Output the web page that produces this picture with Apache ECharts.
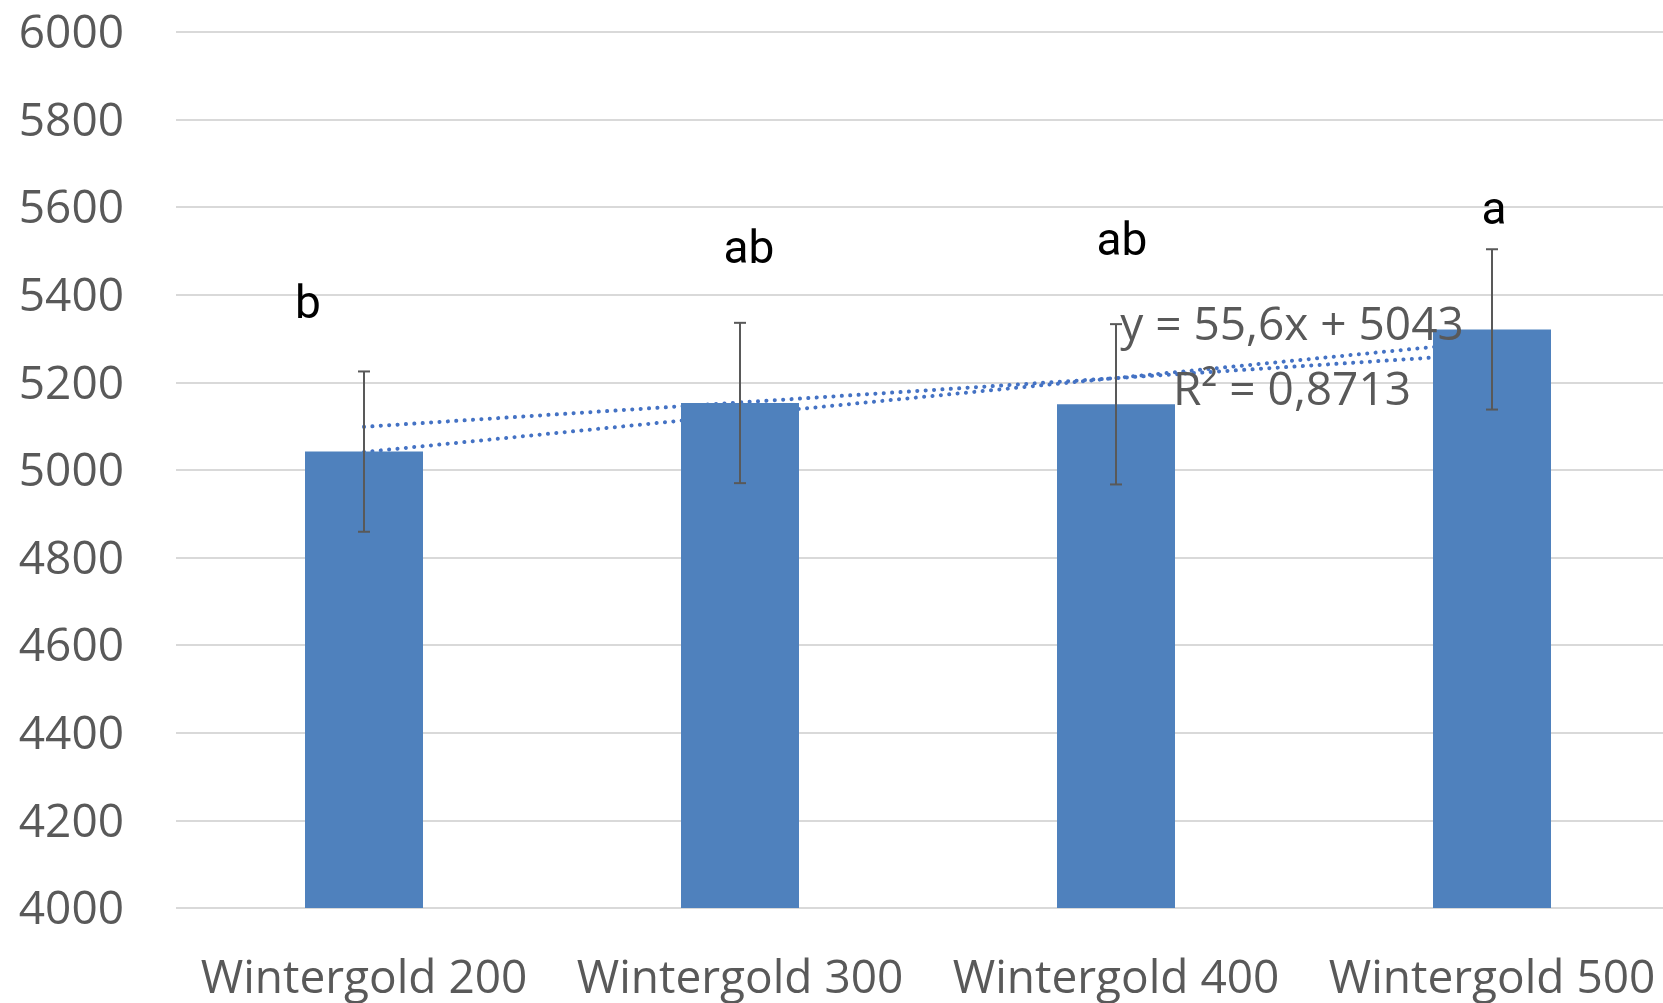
<!DOCTYPE html>
<html>
<head>
<meta charset="utf-8">
<script src="https://cdn.jsdelivr.net/npm/echarts@6/dist/echarts.min.js"></script>
<style>
html,body{margin:0;padding:0;background:#fff;}
#chart{width:1663px;height:1003px;}
</style>
</head>
<body>
<div id="chart"></div>
<script>
// ---- data ----
const categories = ['Wintergold 200', 'Wintergold 300', 'Wintergold 400', 'Wintergold 500'];
const yieldValues = [5042, 5153, 5150, 5321];
const errorValues = [183, 183, 183, 183];
const letters = ['b', 'ab', 'ab', 'a'];
const letterValues = [5374, 5500, 5518, 5587];
const trendLabeled = [5098.6, 5154.2, 5209.8, 5265.4];   // y = 55,6x + 5043
const trendSecond = [5041, 5126, 5210, 5294];
const equationText = 'y = 55,6x + 5043';
const r2Text = 'R\u00B2 = 0,8713';
const yTicks = { min: 4000, max: 6000, interval: 200 };

// ---- styling ----
const letterDx = [-56, 9, 6, 2];
const axisFont = 'Open Sans';
const grey = '#595959';

const chart = echarts.init(document.getElementById('chart'));

const errData = categories.map((c, i) => [i, yieldValues[i] - errorValues[i], yieldValues[i] + errorValues[i]]);
const letterData = categories.map((c, i) => [i, letterValues[i]]);

const dotted = { color: '#4472C4', width: 4, type: [0.1, 8.3], cap: 'round' };

chart.setOption({
  animation: false,
  backgroundColor: '#fff',
  grid: { left: 176, right: -17, top: 32, bottom: 95, outerBoundsMode: 'none', containLabel: false },
  xAxis: {
    type: 'category',
    data: categories,
    boundaryGap: true,
    axisLine: { show: false },
    axisTick: { show: false },
    axisLabel: { color: grey, fontFamily: axisFont, fontSize: 46, margin: 49, interval: 0 },
    splitLine: { show: false }
  },
  yAxis: {
    type: 'value',
    min: yTicks.min, max: yTicks.max, interval: yTicks.interval,
    axisLine: { show: false },
    axisTick: { show: false },
    axisLabel: { color: grey, fontFamily: axisFont, fontSize: 46, margin: 52,
      formatter: function (v) { return '{n|' + v + '}'; },
      rich: { n: { color: grey, fontFamily: axisFont, fontSize: 46, padding: [6, 0, 0, 0] } } },
    splitLine: { show: true, lineStyle: { color: '#d9d9d9', width: 2 } }
  },
  graphic: [
    { type: 'text', x: 1292, y: 327, z: 100,
      style: { text: equationText, fontFamily: axisFont, fontSize: 46, fill: grey, align: 'center', verticalAlign: 'middle' } },
    { type: 'text', x: 1292, y: 392, z: 100,
      style: { text: r2Text, fontFamily: axisFont, fontSize: 46, fill: grey, align: 'center', verticalAlign: 'middle' } }
  ],
  series: [
    { type: 'line', data: trendLabeled, z: 1, symbol: 'none', lineStyle: dotted, silent: true },
    { type: 'line', data: trendSecond, z: 1, symbol: 'none', lineStyle: dotted, silent: true },
    { type: 'bar', data: yieldValues, z: 2, barWidth: 118, itemStyle: { color: '#4F81BD' } },
    {
      type: 'custom', z: 3, data: errData, encode: { x: 0, y: [1, 2] },
      renderItem: function (params, api) {
        const i = api.value(0);
        const pLo = api.coord([i, api.value(1)]);
        const pHi = api.coord([i, api.value(2)]);
        const w = 6;
        const st = { stroke: '#595959', lineWidth: 2 };
        return { type: 'group', children: [
          { type: 'line', shape: { x1: pHi[0], y1: pHi[1], x2: pLo[0], y2: pLo[1] }, style: st },
          { type: 'line', shape: { x1: pHi[0] - w, y1: pHi[1], x2: pHi[0] + w, y2: pHi[1] }, style: st },
          { type: 'line', shape: { x1: pLo[0] - w, y1: pLo[1], x2: pLo[0] + w, y2: pLo[1] }, style: st }
        ]};
      }
    },
    {
      type: 'custom', z: 4, data: letterData, encode: { x: 0, y: 1 },
      renderItem: function (params, api) {
        const idx = params.dataIndex;
        const p = api.coord([api.value(0), api.value(1)]);
        return { type: 'text', x: p[0] + letterDx[idx], y: p[1],
          style: { text: letters[idx], fontFamily: 'Roboto', fontSize: 46, fill: '#000', align: 'center', verticalAlign: 'middle' } };
      }
    }
  ]
});
</script>
</body>
</html>
